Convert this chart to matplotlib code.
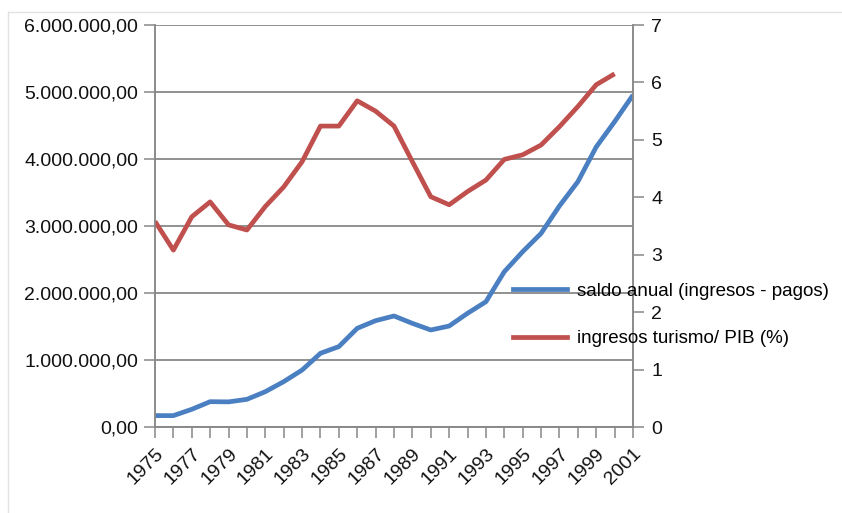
import matplotlib
matplotlib.use("Agg")
import matplotlib.pyplot as plt
from matplotlib.lines import Line2D
from matplotlib.ticker import FuncFormatter, MultipleLocator

plt.rcParams['font.family'] = ['Liberation Sans', 'DejaVu Sans']

years = list(range(1975, 2002))
saldo = [170000, 170000, 264000, 378000, 375000, 413000, 527000, 677000, 850000,
         1100000, 1200000, 1473000, 1587000, 1657000, 1547000, 1448000, 1507000,
         1697000, 1870000, 2318000, 2617000, 2890000, 3300000, 3661000, 4180000,
         4557000, 4955000]
turismo_pib = [3.58, 3.08, 3.66, 3.92, 3.52, 3.43, 3.84, 4.18, 4.62, 5.24, 5.24,
               5.68, 5.50, 5.24, 4.62, 4.01, 3.87, 4.10, 4.30, 4.66, 4.74, 4.91,
               5.23, 5.58, 5.96, 6.15]
turismo_years = years[:len(turismo_pib)]

lbl_saldo = 'saldo anual (ingresos - pagos)'
lbl_pib = 'ingresos turismo/ PIB (%)'

blue = '#4a7fc1'
red = '#c0504d'
gray = '#888888'


def miles(v, pos):
    s = '{:,.2f}'.format(v)
    return s.replace(',', '#').replace('.', ',').replace('#', '.')


fig = plt.figure(figsize=(8.42, 5.13), dpi=100)
ax = fig.add_axes([155 / 842, 1 - 427 / 513, (633 - 155) / 842, (427 - 25) / 513])
ax2 = ax.twinx()

ax.plot(years, saldo, color=blue, lw=3.4, solid_capstyle='butt', label=lbl_saldo)
ax2.plot(turismo_years, turismo_pib, color=red, lw=3.4, solid_capstyle='butt', label=lbl_pib)

ax.set_xlim(1975, 2001)
ax.set_ylim(0, 6000000)
ax2.set_ylim(0, 7)
ax.yaxis.set_major_locator(MultipleLocator(1000000))
ax.yaxis.set_major_formatter(FuncFormatter(miles))
ax2.yaxis.set_major_locator(MultipleLocator(1))

ax.set_xticks(years)
ax.set_xticklabels([str(y) if (y - 1975) % 2 == 0 else '' for y in years],
                   rotation=45, ha='right', rotation_mode='anchor')

ax.grid(axis='y', color=gray, lw=1.3)
ax.set_axisbelow(True)

for a in (ax, ax2):
    a.spines['top'].set_visible(False)
    for s in ('left', 'right', 'bottom'):
        a.spines[s].set_color(gray)
        a.spines[s].set_linewidth(1.1)
    a.tick_params(colors=gray, labelcolor='#111111', labelsize=14, length=8, width=1.1)

ax.tick_params(axis='y', pad=4)
ax.tick_params(axis='x', pad=5, labelsize=14)
ax2.tick_params(axis='y', pad=5)

fig.legend(handles=[Line2D([], [], color=blue, lw=3.4), Line2D([], [], color=red, lw=3.4)],
           labels=[lbl_saldo, lbl_pib], loc='center left',
           bbox_to_anchor=(513 / 842, 1 - 315 / 513), frameon=False, fontsize=13.5,
           handlelength=2.9, handletextpad=0.5, labelspacing=1.6, borderpad=0,
           borderaxespad=0)

# thin frame around the image
fig.add_artist(Line2D([8 / 842, 1], [1 - 12 / 513, 1 - 12 / 513], color='#e2e2e2', lw=1))
fig.add_artist(Line2D([8 / 842, 8 / 842], [0, 1 - 12 / 513], color='#e2e2e2', lw=1))

fig.savefig('out.png', dpi=100)
